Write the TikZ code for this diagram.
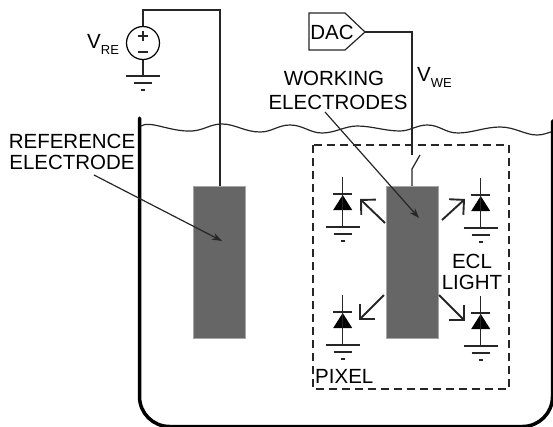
\documentclass[tikz,border=0pt]{standalone}
\usepackage{fontspec}
\setmainfont{Liberation Sans}
\usetikzlibrary{arrows.meta}
\newcommand{\lowtext}[1]{\raisebox{-.3em}{\fontsize{13}{13}\selectfont #1}}
\tikzset{
    wire/.style={line width=1.2pt,draw=black!85},
    electrode/.style={fill=black!60,draw=black!35,line width=.4pt,minimum width=52pt,minimum height=152pt,inner sep=0pt},
    label/.style={inner sep=0pt,font=\fontsize{20.5}{21}\selectfont,align=center},
    lightarrow/.style={wire,line width=1.9pt,-{Straight Barb[length=10.5pt,width=21pt,line width=1.9pt]}},
    pointer/.style={wire,-{Stealth[length=10pt,width=7pt]}},
    pics/gnd/.style={code={
        \draw[wire] (-17,0) -- (17,0) (-9,7) -- (9,7) (-2,14) -- (2,14);
    }},
    pics/diode/.style={code={
        \fill[black] (0,18) -- (-9.5,33) -- (9.5,33) -- cycle;
        \draw[wire] (0,0) -- (0,50) (-9.5,17) -- (9.5,17);
        \pic at (0,50) {gnd};
    }}
}
\begin{document}
\begin{tikzpicture}[x=1pt,y=-1pt]
        \useasboundingbox (0,0) rectangle (553,426);
        \draw[line width=3.5pt,line cap=round,rounded corners=30pt] (139.5,118) -- (139.5,426.5)
            -- (552.5,426.5) -- (552.5,121);
        \node[electrode] (refbar) at (219.5,262) {};
        \node[electrode] (workbar) at (412,262) {};
        \draw[wire,dashed,dash pattern=on 8pt off 5pt,line width=1.4pt] (313,145) rectangle (509,389);

        \node[circle,draw,line width=1.2pt,minimum size=33pt,inner sep=0pt] (source) at (143,43) {};
        \draw[wire] (143,31) -- (143,41) (138,36) -- (148,36) (138,52) -- (148,52);
        \path (143,10) coordinate (corner) (220,10) coordinate (cornerb) (143,76) coordinate (srcgnd);
        \draw[wire] (source.north) -- (corner) -- (cornerb) -- (refbar.north -| cornerb);
        \draw[wire] (source.south) -- (srcgnd);
        \pic at (srcgnd) {gnd};

        \node[label] (dac) at (332,32) {DAC};
        \draw[wire] (309,13) -- (345,13) -- (365,32) -- (345,50) -- (309,50) -- cycle;
        \path (365,32) coordinate (dacout) (412,32) coordinate (bend)
            (412,155) coordinate (swtop) (420,155) coordinate (swarm) (412,169) coordinate (swbot);
        \draw[wire] (dacout) -- (bend) -- (swtop);
        \draw[wire] (swarm) -- (swbot) -- (workbar.north);

        \pic at (342.7,177) {diode};
        \pic at (480.7,178) {diode};
        \pic at (342.7,295) {diode};
        \pic at (480.7,296) {diode};

        \path (385,223) coordinate (lta) (360,199) coordinate (ltb)
            (442,220) coordinate (rta) (465,199) coordinate (rtb)
            (384,295) coordinate (lba) (359,320) coordinate (lbb)
            (439,295) coordinate (rba) (465,321) coordinate (rbb);
        \draw[lightarrow] (lta) -- (ltb);
        \draw[lightarrow] (rta) -- (rtb);
        \draw[lightarrow] (lba) -- (lbb);
        \draw[lightarrow] (rba) -- (rbb);

        \node[label,anchor=base west] (vre) at (87,48) {V\lowtext{RE}};
        \node[label,anchor=base west] (vwe) at (417,81) {V\lowtext{WE}};
        \node[label] (reflabel) at (72,152) {REFERENCE\\ELECTRODE};
        \node[label,font=\fontsize{20.5}{24}\selectfont] (worklabel) at (338,90) {WORKING\hspace*{8pt}\\ELECTRODES};
        \node[label] (ecllabel) at (472,272) {ECL\\LIGHT};
        \node[label,anchor=base west] (pixellabel) at (315,383) {PIXEL};

        \path (94,175) coordinate (refstart) (222,241) coordinate (reftip)
            (325,112) coordinate (workstart) (419,218) coordinate (worktip);
        \draw[pointer] (refstart) -- (reftip);
        \draw[pointer] (workstart) -- (worktip);

        \draw[wire] (141,126) .. controls (150,120) and (170,132) .. (192,131)
            .. controls (205,130) and (210,124) .. (222,124)
            .. controls (235,124) and (245,132) .. (260,132)
            .. controls (272,132) and (278,125) .. (290,125)
            .. controls (303,125) and (310,133) .. (322,133)
            .. controls (335,133) and (345,126) .. (357,126)
            .. controls (372,126) and (385,131) .. (400,131)
            .. controls (410,131) and (417,125) .. (427,125)
            .. controls (440,125) and (445,133) .. (458,133)
            .. controls (472,133) and (485,127) .. (500,127)
            .. controls (515,127) and (525,135) .. (537,135)
            .. controls (543,135) and (547,133) .. (551,132);
\end{tikzpicture}
\end{document}
